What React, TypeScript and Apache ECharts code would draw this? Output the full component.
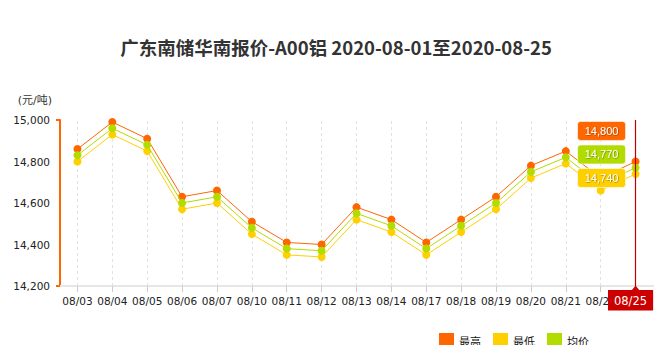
import React, { useEffect, useRef } from "react";
import * as echarts from "echarts";

const titleText = "广东南储华南报价-A00铝 2020-08-01至2020-08-25";
const categories = ["08/03", "08/04", "08/05", "08/06", "08/07", "08/10", "08/11", "08/12", "08/13", "08/14", "08/17", "08/18", "08/19", "08/20", "08/21", "08/24", "08/25"];
const highValues = [14860, 14990, 14910, 14630, 14660, 14510, 14410, 14400, 14580, 14520, 14410, 14520, 14630, 14780, 14850, 14720, 14800];
const lowValues = [14800, 14930, 14850, 14570, 14600, 14450, 14350, 14340, 14520, 14460, 14350, 14460, 14570, 14720, 14790, 14660, 14740];
const avgValues = [14830, 14960, 14880, 14600, 14630, 14480, 14380, 14370, 14550, 14490, 14380, 14490, 14600, 14750, 14820, 14690, 14770];
const seriesNames = ["最高", "最低", "均价"];
const colors = ["#ff6600", "#ffd000", "#b2dc00"];
const yMin = 14200;
const yMax = 15000;
const yStep = 200;
const focusIndex = 16;

const FONT = "DejaVu Sans, 'Noto Sans CJK SC', sans-serif";

function fmt(v: number) {
  return v.toLocaleString("en-US");
}

export default function App() {
  const ref = useRef<HTMLDivElement>(null);
  useEffect(() => {
    if (!ref.current) return;
    const chart = echarts.init(ref.current, undefined, { renderer: "svg" });
    const datasets = [highValues, lowValues, avgValues];
    const option: any = {
      animation: false,
      title: {
        text: titleText,
        left: "center",
        top: 33,
        textStyle: { fontSize: 18.5, fontWeight: "bold", color: "#333", fontFamily: "'Noto Sans CJK SC', sans-serif" },
      },
      legend: {
        data: seriesNames,
        icon: "rect",
        itemWidth: 15,
        itemHeight: 15,
        itemGap: 12,
        left: 434,
        top: 328,
        textStyle: { fontSize: 11, color: "#111", fontFamily: "'Noto Sans CJK SC', sans-serif" },
      },
      grid: { left: 60, right: 19, top: 120, bottom: 67 },
      xAxis: {
        type: "category",
        data: categories,
        boundaryGap: true,
        axisLine: { lineStyle: { color: "#e6e6e6", width: 2 } },
        axisTick: { show: true, alignWithLabel: true, length: 6, lineStyle: { color: "#ccc" } },
        axisLabel: { color: "#222", fontSize: 10.5, fontFamily: FONT, margin: 10, interval: 0 },
        splitLine: { show: false },
      },
      yAxis: {
        type: "value",
        min: yMin,
        max: yMax,
        interval: yStep,
        name: "(元/吨)",
        nameLocation: "end",
        nameGap: 14,
        nameTextStyle: { color: "#333", fontSize: 11, fontFamily: FONT, align: "right", padding: [0, 8, 0, 0] },
        axisLine: { show: true, lineStyle: { color: "#ff6600", width: 2 } },
        axisTick: { show: true, customValues: [yMin, yMax], length: 4, lineStyle: { color: "#ff6600", width: 2 } },
        axisLabel: {
          color: "#222",
          fontSize: 10.5,
          fontFamily: FONT,
          margin: 10,
          formatter: (v: number) => fmt(v),
        },
        splitLine: { show: false },
      },
      series: seriesNames.map((name, i) => ({
        name,
        type: "line",
        data: datasets[i],
        symbol: "circle",
        symbolSize: 8,
        itemStyle: { color: colors[i] },
        lineStyle: { color: colors[i], width: 1 },
        z: 3 + i,
        markLine:
          i === 0
            ? {
                silent: true,
                symbol: "none",
                label: { show: false },
                lineStyle: { color: "#e2e2e2", type: [3, 3], width: 1 },
                data: categories.slice(0, focusIndex).map((c) => ({ xAxis: c })),
                z: 1,
              }
            : i === 2
            ? {
                silent: true,
                symbol: "none",
                lineStyle: { color: "#c00000", type: "solid", width: 1.2 },
                label: {
                  show: true,
                  position: "start",
                  distance: 4,
                  offset: [-5, 0],
                  formatter: () => categories[focusIndex],
                  backgroundColor: "#cc0000",
                  color: "#fff",
                  fontSize: 11.5,
                  fontFamily: FONT,
                  padding: [5, 6, 4, 6],
                },
                data: [{ xAxis: categories[focusIndex] }],
                z: 10,
              }
            : undefined,
      })),
    };
    chart.setOption(option);

    const xPix = chart.convertToPixel({ xAxisIndex: 0 }, categories[focusIndex]) as number;
    const yLow = chart.convertToPixel({ yAxisIndex: 0 }, lowValues[focusIndex]) as number;
    const yBase = chart.convertToPixel({ yAxisIndex: 0 }, yMin) as number;
    const boxW = 48;
    const boxH = 19;
    const right = xPix - 10;
    const centers = [yLow + 4 - 47, yLow + 4 - 23.5, yLow + 4];
    const boxData = [
      { v: highValues[focusIndex], c: colors[0] },
      { v: avgValues[focusIndex], c: colors[2] },
      { v: lowValues[focusIndex], c: colors[1] },
    ];
    const graphics: any[] = boxData.map((b, i) => ({
      type: "group",
      z: 100,
      children: [
        {
          type: "rect",
          z: 100,
          shape: { x: right - boxW, y: centers[i] - boxH / 2, width: boxW, height: boxH, r: 3 },
          style: { fill: b.c, stroke: "rgba(255,255,255,0.6)", lineWidth: 1 },
        },
        {
          type: "text",
          z: 101,
          x: right - boxW / 2,
          y: centers[i],
          style: {
            text: fmt(b.v),
            fill: "#fff",
            font: "11px 'Liberation Sans', sans-serif",
            textAlign: "center",
            textVerticalAlign: "middle",
            textShadowColor: "rgba(0,0,0,0.5)",
            textShadowBlur: 1,
            textShadowOffsetX: 0.5,
            textShadowOffsetY: 0.5,
          },
        },
      ],
    }));
    graphics.push({
      type: "polygon",
      z: 100,
      shape: { points: [[xPix - 4, yBase + 4.5], [xPix + 4, yBase + 4.5], [xPix, yBase - 0.5]] },
      style: { fill: "#cc0000" },
    });
    chart.setOption({ graphic: graphics });

    return () => chart.dispose();
  }, []);
  return <div ref={ref} style={{ width: 672, height: 353, margin: -8 }} />;
}
